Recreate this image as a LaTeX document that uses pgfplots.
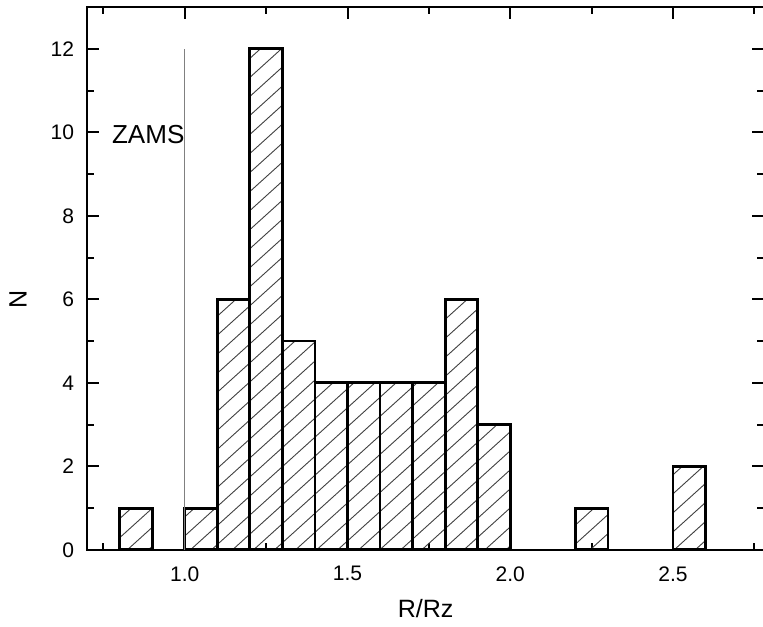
\documentclass[border=0pt]{standalone}
\usepackage{fontspec}
\setmainfont{Liberation Sans}
\usepackage{pgfplots}
\pgfplotsset{compat=1.18}
\usetikzlibrary{patterns.meta}

\tikzdeclarepattern{
  name=hatch,
  type=uncolored,
  bottom left={(-0.1pt,-0.1pt)},
  top right={(10.6pt,9.6pt)},
  tile size={(10.5pt,9.5pt)},
  code={\draw[line width=0.45pt] (-0.1pt,-0.0905pt) -- (10.6pt,9.59pt);}
}

\begin{document}
\begin{tikzpicture}
\begin{axis}[
  scale only axis,
  width=338pt,height=271pt,
  xmin=0.7,xmax=2.78,ymin=0,ymax=13,
  xtick={1,1.5,2,2.5},
  minor xtick={0.75,1.25,1.75,2.25,2.75},
  ytick={0,2,...,12},
  minor ytick={1,3,...,11},
  tick align=inside,
  major tick length=6pt,minor tick length=3.5pt,
  every tick/.style={black,line width=1pt},
  axis line style={line width=1pt},
  xticklabel style={font=\fontsize{10.5}{12}\selectfont,yshift=-4.7pt},
  yticklabel style={font=\fontsize{10.5}{12}\selectfont,xshift=-3pt},
  /pgf/number format/assume math mode=true,
  xticklabel={\pgfmathprintnumber[fixed,precision=1,zerofill]{\tick}},
  xlabel={R/Rz},ylabel={N},
  label style={font=\fontsize{12.5}{14}\selectfont},
  xlabel style={at={(axis description cs:0.5,0)},anchor=center,yshift=-29.5pt},
  ylabel style={at={([xshift=-34.5pt]axis description cs:0,0.4615)},anchor=center},
  clip=false,
]
\addplot[ybar,bar width=0.1,bar shift=0pt,draw=black,line width=1.4pt,pattern=hatch,pattern color=black!75]
  coordinates {(0.85,1) (1.05,1) (1.15,6) (1.25,12) (1.35,5) (1.45,4) (1.55,4)
               (1.65,4) (1.75,4) (1.85,6) (1.95,3) (2.25,1) (2.55,2)};
\addplot[gray,line width=0.6pt] coordinates {(1,0) (1,12)};
\node[anchor=east,inner sep=0pt,font=\fontsize{13}{15}\selectfont] at (axis cs:1,9.95) {ZAMS};
\end{axis}
\pgfresetboundingbox
\path ([shift={(-43.5pt,-38.5pt)}]current axis.south west) rectangle ([shift={(-0.6pt,3.5pt)}]current axis.north east);
\end{tikzpicture}
\end{document}
